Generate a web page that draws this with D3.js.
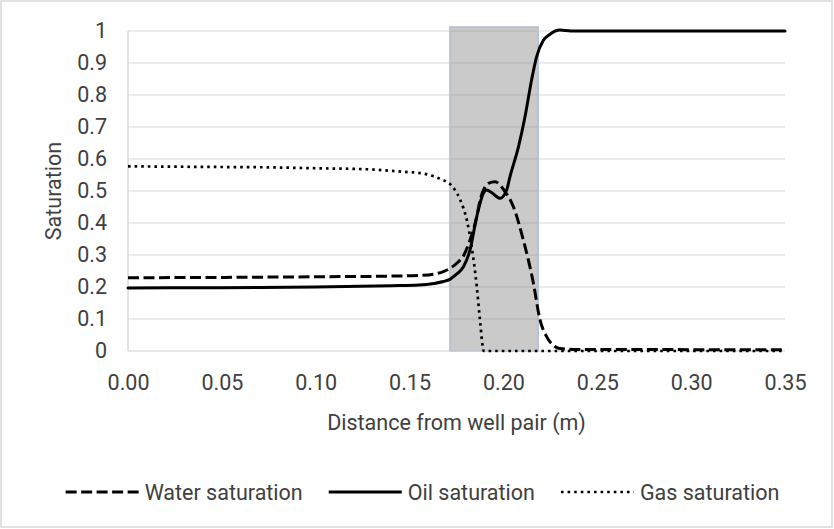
<!DOCTYPE html>
<html>
<head>
<meta charset="utf-8">
<script src="https://cdn.jsdelivr.net/npm/d3@7"></script>
<style>
  html, body { margin: 0; padding: 0; background: #ffffff; }
  svg { display: block; }
  text { font-family: Roboto, "Noto Sans", sans-serif; fill: #404040; }
</style>
</head>
<body>
<svg id="chart" width="834" height="529"></svg>
<script>
// Axis ticks and labels
const xTickValues = [0, 0.05, 0.10, 0.15, 0.20, 0.25, 0.30, 0.35];
const xTickLabels = ["0.00", "0.05", "0.10", "0.15", "0.20", "0.25", "0.30", "0.35"];
const yTickValues = [0, 0.1, 0.2, 0.3, 0.4, 0.5, 0.6, 0.7, 0.8, 0.9, 1];
const yTickLabels = ["0", "0.1", "0.2", "0.3", "0.4", "0.5", "0.6", "0.7", "0.8", "0.9", "1"];

// Highlighted front zone (distance range in m, top value)
const zoneStart = 0.1715;
const zoneEnd = 0.2185;
const zoneTop = 1.0125;

// Distance from well pair (m) and saturations
const waterX = [0, 0.05, 0.10, 0.14, 0.155, 0.1627, 0.168, 0.1715, 0.176, 0.1787, 0.1822, 0.1858, 0.1875,
                0.19, 0.192, 0.1955, 0.198, 0.2, 0.2053, 0.2106, 0.216, 0.2195, 0.223, 0.2265, 0.23, 0.24, 0.35];
const waterS = [0.229, 0.230, 0.232, 0.234, 0.236, 0.240, 0.248, 0.258, 0.279, 0.297, 0.347, 0.42, 0.47,
                0.51, 0.524, 0.529, 0.52, 0.505, 0.451, 0.347, 0.211, 0.097, 0.045, 0.018, 0.008, 0.005, 0.004];

const oilX = [0, 0.05, 0.10, 0.14, 0.155, 0.163, 0.168, 0.1715, 0.175, 0.1787, 0.1822, 0.1858, 0.1893, 0.1911,
              0.194, 0.1982, 0.2017, 0.2035, 0.208, 0.2115, 0.215, 0.2177, 0.2212, 0.2248, 0.230, 0.236, 0.35];
const oilS = [0.197, 0.198, 0.200, 0.204, 0.206, 0.211, 0.217, 0.224, 0.240, 0.263, 0.316, 0.42, 0.493, 0.503,
              0.494, 0.477, 0.503, 0.545, 0.638, 0.732, 0.847, 0.92, 0.970, 0.990, 1.003, 1.0, 1.0];

const gasX = [0, 0.05, 0.0739, 0.10, 0.127, 0.1467, 0.1556, 0.1627, 0.1675, 0.1715, 0.174, 0.177, 0.1805,
              0.1831, 0.1858, 0.1875, 0.189, 0.1895, 0.35];
const gasS = [0.577, 0.575, 0.574, 0.571, 0.568, 0.560, 0.556, 0.546, 0.535, 0.522, 0.505, 0.472, 0.409,
              0.326, 0.201, 0.097, 0.013, 0, 0];

const seriesNames = ["Water saturation", "Oil saturation", "Gas saturation"];

const series = [
  { name: seriesNames[0], xs: waterX, ys: waterS, dash: "11,4.5", width: 3, cap: "butt" },
  { name: seriesNames[1], xs: oilX, ys: oilS, dash: null, width: 3, cap: "round" },
  { name: seriesNames[2], xs: gasX, ys: gasS, dash: "2.6,4", width: 2.7, cap: "butt" }
];

const fontSize = 21.5;
const svg = d3.select("#chart");

// Outer chart frame
svg.append("rect")
  .attr("x", 1).attr("y", 1).attr("width", 831).attr("height", 526)
  .attr("fill", "#ffffff").attr("stroke", "#d9d9d9").attr("stroke-width", 1.5);

const x = d3.scaleLinear().domain([0, 0.35]).range([128, 785]);
const y = d3.scaleLinear().domain([0, 1]).range([351, 31]);

// Horizontal gridlines
svg.append("g")
  .selectAll("line")
  .data(yTickValues.filter(d => d > 0))
  .join("line")
  .attr("x1", x(0)).attr("x2", x(0.35))
  .attr("y1", d => y(d)).attr("y2", d => y(d))
  .attr("stroke", "#d9d9d9").attr("stroke-width", 1);

// Zone shading (semi-transparent so gridlines show through)
svg.append("rect")
  .attr("x", x(zoneStart))
  .attr("y", y(zoneTop))
  .attr("width", x(zoneEnd) - x(zoneStart))
  .attr("height", y(0) - y(zoneTop))
  .attr("fill", "#808080").attr("fill-opacity", 0.42)
  .attr("stroke", "#aebfd3").attr("stroke-width", 1.5);

// Axis lines
svg.append("line")
  .attr("x1", x(0)).attr("x2", x(0)).attr("y1", y(0)).attr("y2", y(1))
  .attr("stroke", "#d0d0d0").attr("stroke-width", 1.2);
svg.append("line")
  .attr("x1", x(0)).attr("x2", x(0.35)).attr("y1", y(0)).attr("y2", y(0))
  .attr("stroke", "#d0d0d0").attr("stroke-width", 1.2);

// Tick labels via d3 axes
const yAxis = d3.axisLeft(y)
  .tickValues(yTickValues)
  .tickSize(0)
  .tickPadding(21)
  .tickFormat((d, i) => yTickLabels[i]);
const yAxisG = svg.append("g").attr("transform", `translate(${x(0)},0)`).call(yAxis);
yAxisG.select(".domain").remove();
yAxisG.selectAll("text").attr("font-size", fontSize).attr("fill", "#404040")
  .style("font-family", "Roboto, 'Noto Sans', sans-serif");

const xAxis = d3.axisBottom(x)
  .tickValues(xTickValues)
  .tickSize(0)
  .tickPadding(24)
  .tickFormat((d, i) => xTickLabels[i]);
const xAxisG = svg.append("g").attr("transform", `translate(0,${y(0)})`).call(xAxis);
xAxisG.select(".domain").remove();
xAxisG.selectAll("text").attr("font-size", fontSize).attr("fill", "#404040")
  .style("font-family", "Roboto, 'Noto Sans', sans-serif");

// Axis titles
svg.append("text")
  .attr("x", (x(0) + x(0.35)) / 2).attr("y", 430)
  .attr("text-anchor", "middle").attr("font-size", fontSize)
  .text("Distance from well pair (m)");

svg.append("text")
  .attr("transform", `translate(61,${(y(0) + y(1)) / 2}) rotate(-90)`)
  .attr("text-anchor", "middle").attr("font-size", fontSize)
  .text("Saturation");

// Series lines
const lineGen = d3.line()
  .x(d => x(d[0]))
  .y(d => y(d[1]))
  .curve(d3.curveMonotoneX);

svg.append("g")
  .selectAll("path")
  .data(series)
  .join("path")
  .attr("d", s => lineGen(s.xs.map((v, i) => [v, s.ys[i]])))
  .attr("fill", "none")
  .attr("stroke", "#000000")
  .attr("stroke-width", s => s.width)
  .attr("stroke-linecap", s => s.cap)
  .attr("stroke-linejoin", "round")
  .attr("stroke-dasharray", s => s.dash);

// Legend, laid out left to right and centred
const legendY = 492;
const legendLine = 73;
const legendGapText = 6;
const legendGapItem = 26;
const legendG = svg.append("g");
const items = legendG.selectAll("g").data(series).join("g");
items.append("line")
  .attr("x1", 0).attr("x2", legendLine)
  .attr("y1", legendY).attr("y2", legendY)
  .attr("stroke", "#000000")
  .attr("stroke-width", s => s.width)
  .attr("stroke-dasharray", s => s.dash);
items.append("text")
  .attr("x", legendLine + legendGapText)
  .attr("y", legendY + 8)
  .attr("font-size", fontSize)
  .text(s => s.name);

const widths = [];
items.each(function () {
  const w = legendLine + legendGapText + this.querySelector("text").getComputedTextLength();
  widths.push(w);
});
const total = d3.sum(widths) + legendGapItem * (widths.length - 1);
let cursor = 422.5 - total / 2;
items.attr("transform", (s, i) => {
  const t = `translate(${cursor},0)`;
  cursor += widths[i] + legendGapItem;
  return t;
});
</script>
</body>
</html>
